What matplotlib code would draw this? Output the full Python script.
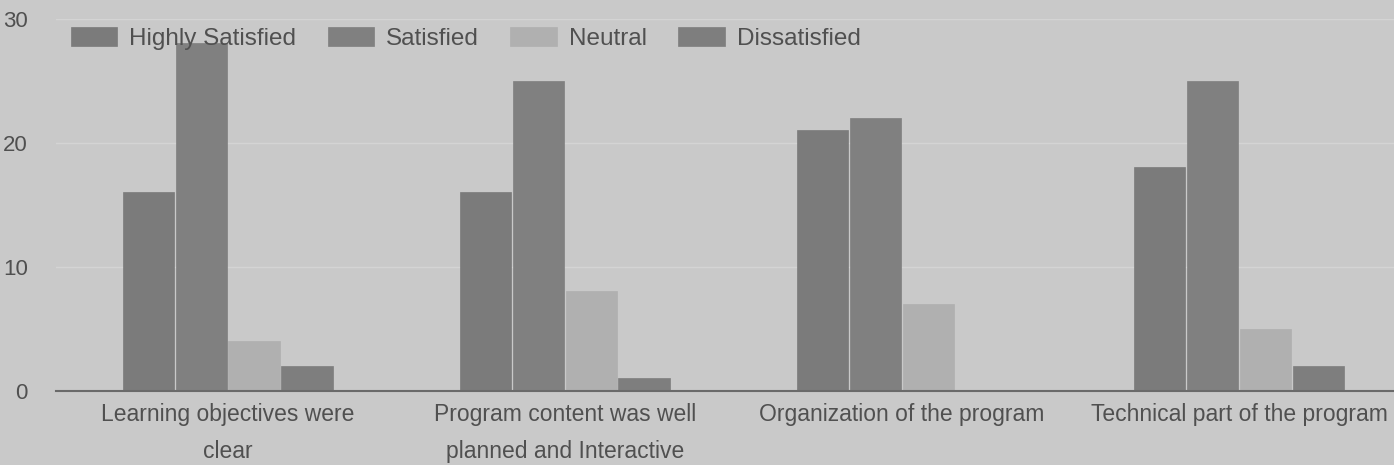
import matplotlib
matplotlib.use("Agg")
import matplotlib.pyplot as plt
import numpy as np

categories = ["Learning objectives were\nclear",
              "Program content was well\nplanned and Interactive",
              "Organization of the program",
              "Technical part of the program"]
series_names = ["Highly Satisfied", "Satisfied", "Neutral", "Dissatisfied"]
highly_satisfied = [16, 16, 21, 18]
satisfied = [28, 25, 22, 25]
neutral = [4, 8, 7, 5]
dissatisfied = [2, 1, 0, 2]
y_ticks = [0, 10, 20, 30]

values = [highly_satisfied, satisfied, neutral, dissatisfied]
colors = ["#7b7b7b", "#808080", "#b0b0b0", "#7e7e7e"]
bg = "#c9c9c9"
text_color = "#505050"

plt.rcParams['font.family'] = ['Liberation Sans', 'DejaVu Sans']

fig = plt.figure(figsize=(13.94, 4.65), dpi=100, facecolor=bg)
ax = fig.add_axes([0.04, 0.16, 0.96, 0.80])
ax.set_facecolor(bg)

x = np.arange(len(categories))
bw = 0.157
for i, (name, vals, c) in enumerate(zip(series_names, values, colors)):
    ax.bar(x + (i - 1.5) * bw, vals, width=bw * 0.97, color=c, label=name,
           edgecolor=c, linewidth=0.5)

ax.set_ylim(0, 30)
ax.set_xlim(-0.51, 3.46)
ax.set_yticks(y_ticks)
ax.set_yticklabels([str(t) for t in y_ticks], fontsize=16, color=text_color)
ax.set_xticks(x)
ax.set_xticklabels(categories, fontsize=16.5, color=text_color, linespacing=1.75)
ax.tick_params(axis='x', length=0, pad=9)
ax.tick_params(axis='y', length=0, pad=20)
ax.grid(axis='y', color='#d4d4d4', linewidth=1)
ax.set_axisbelow(True)
for s in ['top', 'right', 'left']:
    ax.spines[s].set_visible(False)
ax.spines['bottom'].set_color('#6a6a6a')
ax.spines['bottom'].set_linewidth(1.5)

fig.legend(loc='upper left', bbox_to_anchor=(0.035, 0.99), ncol=4,
           frameon=False, fontsize=17.5, handlelength=1.9, handleheight=0.85,
           columnspacing=1.3, handletextpad=0.5, labelcolor=text_color)

fig.savefig("out.png", dpi=100, facecolor=bg)
